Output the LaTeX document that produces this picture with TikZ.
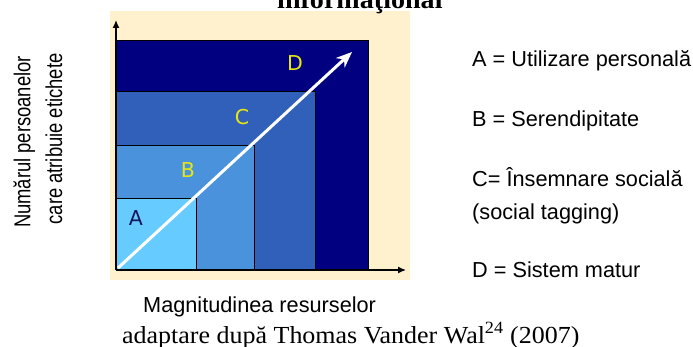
\documentclass[tikz,border=0pt]{standalone}
\usepackage{fontspec}
\setmainfont{Liberation Serif}
\newfontfamily\arialf{Liberation Sans}
\newfontfamily\dejavuf{DejaVu Sans}
\usetikzlibrary{arrows.meta}
\definecolor{bgbeige}{RGB}{255,240,206}
\definecolor{colA}{RGB}{102,204,255}
\definecolor{colB}{RGB}{74,146,220}
\definecolor{colC}{RGB}{48,96,185}
\definecolor{colD}{RGB}{0,0,128}
\definecolor{letternavy}{RGB}{20,20,90}
\definecolor{letteryellow}{RGB}{230,230,20}
\begin{document}
\begin{tikzpicture}[x=1pt,y=-1pt,
  sq/.style={draw=black, line width=0.8pt},
  axisline/.style={draw=black, line width=1.4pt, -{Latex[length=8pt,width=7pt]}},
  lettr/.style={inner sep=0, font=\dejavuf\fontsize{20.5}{22}\selectfont},
  legend/.style={anchor=base west, inner sep=0, font=\arialf\fontsize{21.7}{26}\selectfont},
  ylab/.style={rotate=90, anchor=base, inner sep=0, font=\arialf\fontsize{23}{27}\selectfont},
  serifcap/.style={anchor=base west, inner sep=0, font=\fontsize{24.5}{28}\selectfont}]
\useasboundingbox (0,0) rectangle (693,347);
% background
\fill[bgbeige] (110,11) rectangle (410,280);
% nested squares
\draw[sq, fill=colD] (116,40) rectangle (368,270);
\draw[sq, fill=colC] (116,91) rectangle (315,270);
\draw[sq, fill=colB] (116,145) rectangle (254,270);
\draw[sq, fill=colA] (116,198) rectangle (196,270);
% axes
\coordinate (O) at (116,270);
\coordinate (ytip) at (116,20);
\coordinate (xtip) at (406,270);
\draw[axisline] (O) -- (ytip);
\draw[axisline] (O) -- (xtip);
% white arrow
\coordinate (ws) at (118,268);
\coordinate (we) at (352,52);
\draw[white, line width=3pt, -{Stealth[length=16pt,width=13pt]}] (ws) -- (we);
% letters
\node[lettr, text=letternavy] (la) at (136,218) {A};
\node[lettr, text=letteryellow] (lb) at (188,170) {B};
\node[lettr, text=letteryellow] (lc) at (242,117) {C};
\node[lettr, text=letteryellow] (ld) at (295,63) {D};
% title (cut at top, as in the reference)
\node[anchor=base west, inner sep=0, font=\bfseries\fontsize{26}{30}\selectfont] (title) at (277,9) {\scalebox{1.08}[1]{informaţional}};
% legend
\node[legend] (legA) at (472,66.7) {A = Utilizare personală};
\node[legend] (legB) at (472,126.7) {B = Serendipitate};
\node[legend] (legC) at (472,186.7) {C= Însemnare socială};
\node[legend] (legC2) at (472,220) {(social tagging)};
\node[legend] (legD) at (472,278) {D = Sistem matur};
% axis labels
\node[ylab] (yl1) at (30.5,142) {\scalebox{0.8}[1]{Numărul persoanelor}};
\node[ylab] (yl2) at (62,139) {\scalebox{0.8}[1]{care atribuie etichete}};
\node[legend] (xl) at (143,312) {Magnitudinea resurselor};
% caption
\node[serifcap] (cap) at (122,343) {\scalebox{1.06}[1]{adaptare după Thomas Vander Wal\textsuperscript{24} (2007)}};
\end{tikzpicture}
\end{document}
